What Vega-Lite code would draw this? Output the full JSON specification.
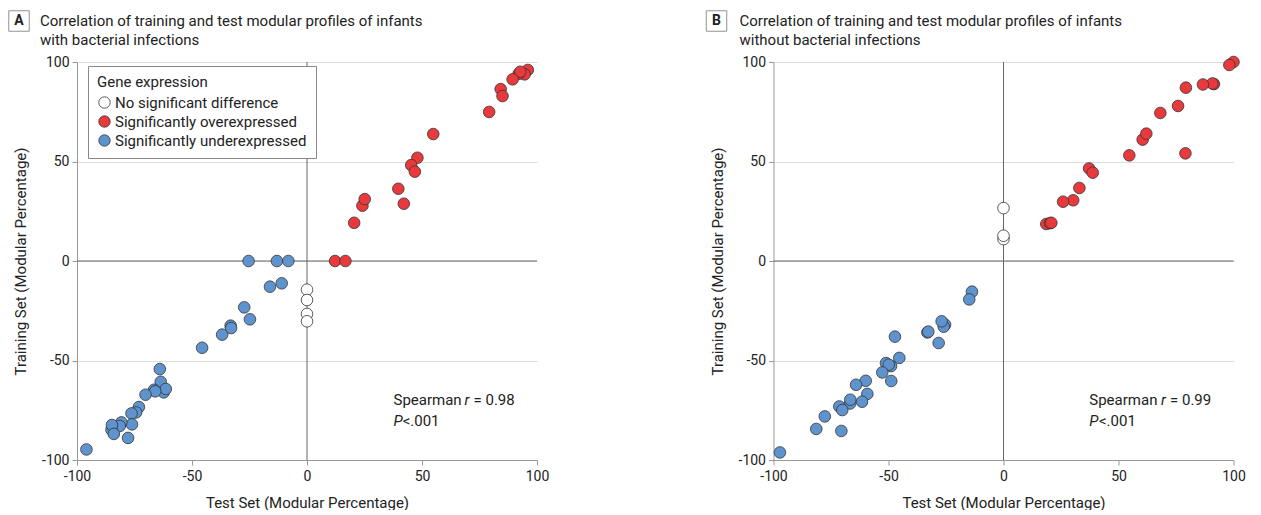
{
  "$schema": "https://vega.github.io/schema/vega-lite/v6.json",
  "padding": {"left": 6, "top": 8, "right": 0, "bottom": 0},
  "spacing": 154.5,
  "background": "white",
  "config": {
    "font": "Roboto",
    "view": {"stroke": null},
    "axis": {
      "labelFont": "Roboto", "labelFontSize": 14, "labelColor": "#222", "labelFlush": false,
      "titleFont": "Roboto", "titleFontSize": 15, "titleFontWeight": "normal", "titleColor": "#222",
      "domainColor": "#999", "tickColor": "#999", "tickSize": 5, "gridColor": "#dddddd",
      "labelExpr": "'' + datum.value"
    },
    "legend": {"labelFont": "Roboto", "titleFont": "Roboto"}
  },
  "datasets": {
    "A": [
      {"test": 0, "train": -14.4, "expr": "No significant difference"},
      {"test": 0, "train": -19.6, "expr": "No significant difference"},
      {"test": 0, "train": -26.6, "expr": "No significant difference"},
      {"test": 0, "train": -30.3, "expr": "No significant difference"},
      {"test": 96, "train": 96, "expr": "Significantly overexpressed"},
      {"test": 94.6, "train": 93.8, "expr": "Significantly overexpressed"},
      {"test": 92, "train": 94, "expr": "Significantly overexpressed"},
      {"test": 92.7, "train": 95.1, "expr": "Significantly overexpressed"},
      {"test": 89.4, "train": 91.3, "expr": "Significantly overexpressed"},
      {"test": 84.2, "train": 86.4, "expr": "Significantly overexpressed"},
      {"test": 85.0, "train": 82.9, "expr": "Significantly overexpressed"},
      {"test": 79.2, "train": 74.9, "expr": "Significantly overexpressed"},
      {"test": 54.9, "train": 63.8, "expr": "Significantly overexpressed"},
      {"test": 48.0, "train": 51.9, "expr": "Significantly overexpressed"},
      {"test": 45.3, "train": 48.2, "expr": "Significantly overexpressed"},
      {"test": 46.9, "train": 44.9, "expr": "Significantly overexpressed"},
      {"test": 39.7, "train": 36.3, "expr": "Significantly overexpressed"},
      {"test": 42.1, "train": 28.8, "expr": "Significantly overexpressed"},
      {"test": 24.1, "train": 27.8, "expr": "Significantly overexpressed"},
      {"test": 25.1, "train": 31.1, "expr": "Significantly overexpressed"},
      {"test": 20.5, "train": 19.2, "expr": "Significantly overexpressed"},
      {"test": 12.2, "train": 0, "expr": "Significantly overexpressed"},
      {"test": 16.7, "train": 0, "expr": "Significantly overexpressed"},
      {"test": -25.4, "train": 0, "expr": "Significantly underexpressed"},
      {"test": -13.1, "train": 0, "expr": "Significantly underexpressed"},
      {"test": -8.1, "train": 0, "expr": "Significantly underexpressed"},
      {"test": -16.1, "train": -12.9, "expr": "Significantly underexpressed"},
      {"test": -11.0, "train": -11.2, "expr": "Significantly underexpressed"},
      {"test": -27.3, "train": -23.3, "expr": "Significantly underexpressed"},
      {"test": -24.8, "train": -29.3, "expr": "Significantly underexpressed"},
      {"test": -33.2, "train": -32.5, "expr": "Significantly underexpressed"},
      {"test": -33.0, "train": -33.7, "expr": "Significantly underexpressed"},
      {"test": -36.9, "train": -37.0, "expr": "Significantly underexpressed"},
      {"test": -45.6, "train": -43.6, "expr": "Significantly underexpressed"},
      {"test": -64.0, "train": -54.3, "expr": "Significantly underexpressed"},
      {"test": -63.6, "train": -60.7, "expr": "Significantly underexpressed"},
      {"test": -62.3, "train": -66.0, "expr": "Significantly underexpressed"},
      {"test": -61.4, "train": -64.3, "expr": "Significantly underexpressed"},
      {"test": -66.5, "train": -64.7, "expr": "Significantly underexpressed"},
      {"test": -66.0, "train": -65.5, "expr": "Significantly underexpressed"},
      {"test": -70.2, "train": -67.2, "expr": "Significantly underexpressed"},
      {"test": -73.1, "train": -73.4, "expr": "Significantly underexpressed"},
      {"test": -74.3, "train": -76.1, "expr": "Significantly underexpressed"},
      {"test": -76.3, "train": -76.6, "expr": "Significantly underexpressed"},
      {"test": -76.1, "train": -82.1, "expr": "Significantly underexpressed"},
      {"test": -80.7, "train": -81.1, "expr": "Significantly underexpressed"},
      {"test": -81.4, "train": -82.9, "expr": "Significantly underexpressed"},
      {"test": -85.0, "train": -84.8, "expr": "Significantly underexpressed"},
      {"test": -84.8, "train": -82.4, "expr": "Significantly underexpressed"},
      {"test": -84.0, "train": -86.9, "expr": "Significantly underexpressed"},
      {"test": -77.8, "train": -88.9, "expr": "Significantly underexpressed"},
      {"test": -95.9, "train": -94.7, "expr": "Significantly underexpressed"}
    ],
    "B": [
      {"test": 0, "train": 26.6, "expr": "No significant difference"},
      {"test": 0, "train": 11.0, "expr": "No significant difference"},
      {"test": 0, "train": 12.7, "expr": "No significant difference"},
      {"test": 100, "train": 100, "expr": "Significantly overexpressed"},
      {"test": 98.2, "train": 98.5, "expr": "Significantly overexpressed"},
      {"test": 91.5, "train": 88.9, "expr": "Significantly overexpressed"},
      {"test": 90.8, "train": 89.2, "expr": "Significantly overexpressed"},
      {"test": 86.7, "train": 88.7, "expr": "Significantly overexpressed"},
      {"test": 79.3, "train": 87.1, "expr": "Significantly overexpressed"},
      {"test": 75.9, "train": 77.9, "expr": "Significantly overexpressed"},
      {"test": 68.2, "train": 74.4, "expr": "Significantly overexpressed"},
      {"test": 60.5, "train": 61.0, "expr": "Significantly overexpressed"},
      {"test": 62.1, "train": 64.0, "expr": "Significantly overexpressed"},
      {"test": 79.1, "train": 54.1, "expr": "Significantly overexpressed"},
      {"test": 54.7, "train": 53.1, "expr": "Significantly overexpressed"},
      {"test": 37.2, "train": 46.5, "expr": "Significantly overexpressed"},
      {"test": 38.8, "train": 44.4, "expr": "Significantly overexpressed"},
      {"test": 33.0, "train": 36.7, "expr": "Significantly overexpressed"},
      {"test": 30.3, "train": 30.5, "expr": "Significantly overexpressed"},
      {"test": 25.9, "train": 29.8, "expr": "Significantly overexpressed"},
      {"test": 18.6, "train": 18.6, "expr": "Significantly overexpressed"},
      {"test": 20.2, "train": 19.0, "expr": "Significantly overexpressed"},
      {"test": 20.8, "train": 19.2, "expr": "Significantly overexpressed"},
      {"test": -13.7, "train": -15.4, "expr": "Significantly underexpressed"},
      {"test": -14.9, "train": -19.3, "expr": "Significantly underexpressed"},
      {"test": -25.4, "train": -32.0, "expr": "Significantly underexpressed"},
      {"test": -26.0, "train": -33.0, "expr": "Significantly underexpressed"},
      {"test": -26.9, "train": -30.3, "expr": "Significantly underexpressed"},
      {"test": -33.1, "train": -35.9, "expr": "Significantly underexpressed"},
      {"test": -32.7, "train": -35.5, "expr": "Significantly underexpressed"},
      {"test": -28.2, "train": -41.2, "expr": "Significantly underexpressed"},
      {"test": -47.2, "train": -38.0, "expr": "Significantly underexpressed"},
      {"test": -45.3, "train": -48.7, "expr": "Significantly underexpressed"},
      {"test": -48.9, "train": -52.8, "expr": "Significantly underexpressed"},
      {"test": -51.1, "train": -51.3, "expr": "Significantly underexpressed"},
      {"test": -49.9, "train": -52.1, "expr": "Significantly underexpressed"},
      {"test": -52.7, "train": -56.0, "expr": "Significantly underexpressed"},
      {"test": -48.8, "train": -60.3, "expr": "Significantly underexpressed"},
      {"test": -59.9, "train": -60.2, "expr": "Significantly underexpressed"},
      {"test": -64.1, "train": -62.2, "expr": "Significantly underexpressed"},
      {"test": -59.2, "train": -66.8, "expr": "Significantly underexpressed"},
      {"test": -61.5, "train": -70.7, "expr": "Significantly underexpressed"},
      {"test": -66.7, "train": -71.6, "expr": "Significantly underexpressed"},
      {"test": -66.6, "train": -69.7, "expr": "Significantly underexpressed"},
      {"test": -71.4, "train": -73.1, "expr": "Significantly underexpressed"},
      {"test": -70.1, "train": -74.9, "expr": "Significantly underexpressed"},
      {"test": -77.7, "train": -78.1, "expr": "Significantly underexpressed"},
      {"test": -81.4, "train": -84.4, "expr": "Significantly underexpressed"},
      {"test": -70.5, "train": -85.4, "expr": "Significantly underexpressed"},
      {"test": -97.2, "train": -96.2, "expr": "Significantly underexpressed"}
    ]
  },
  "resolve": {"legend": {"fill": "independent"}},
  "hconcat": [
    {
      "width": 460, "height": 398,
      "title": {"text": ["Correlation of training and test modular profiles of infants", "with bacterial infections"], "anchor": "start", "frame": "group", "dx": -37, "dy": 51, "fontSize": 15, "fontWeight": "normal", "color": "#222", "lineHeight": 19, "offset": 12},
      "layer": [
        {"data": {"values": [{}]}, "mark": {"type": "square", "size": 420, "filled": false, "stroke": "#666", "strokeWidth": 1, "xOffset": -58, "yOffset": -41}, "encoding": {"x": {"datum": -100, "type": "quantitative"}, "y": {"datum": 100, "type": "quantitative"}}},
        {"data": {"values": [{"label": "A"}]}, "mark": {"type": "text", "fontWeight": "bold", "fontSize": 14, "color": "#222", "xOffset": -58, "yOffset": -41, "baseline": "middle", "align": "center"}, "encoding": {"x": {"datum": -100, "type": "quantitative"}, "y": {"datum": 100, "type": "quantitative"}, "text": {"field": "label"}}},
        {"data": {"values": [{}]}, "mark": {"type": "rule", "color": "#666", "strokeWidth": 1}, "encoding": {"x": {"datum": 0, "type": "quantitative"}}},
        {"data": {"values": [{}]}, "mark": {"type": "rule", "color": "#666", "strokeWidth": 1}, "encoding": {"y": {"datum": 0, "type": "quantitative"}}},
        {
          "data": {"name": "A"},
          "mark": {"type": "point", "filled": true, "size": 135, "stroke": "#333", "strokeWidth": 0.8, "opacity": 1},
          "encoding": {
            "x": {"field": "test", "type": "quantitative", "scale": {"domain": [-100, 100], "nice": false}, "axis": {"values": [-100, -50, 0, 50, 100], "grid": false, "title": "Test Set (Modular Percentage)", "titlePadding": 12, "labelPadding": 4}},
            "y": {"field": "train", "type": "quantitative", "scale": {"domain": [-100, 100], "nice": false}, "axis": {"values": [-100, -50, 0, 50, 100], "grid": true, "title": "Training Set (Modular Percentage)", "titlePadding": 13, "labelPadding": 3}},
            "fill": {"field": "expr", "type": "nominal", "scale": {"domain": ["No significant difference", "Significantly overexpressed", "Significantly underexpressed"], "range": ["#ffffff", "#e8393c", "#5f93cd"]},
              "legend": {"orient": "none", "legendX": 11, "legendY": 4, "title": "Gene expression", "titleFontSize": 15, "titleFontWeight": "normal", "titleColor": "#222", "labelFontSize": 15, "labelColor": "#222", "labelLimit": 400, "strokeColor": "#888", "padding": 9, "symbolType": "circle", "symbolSize": 130, "symbolStrokeColor": "#333", "symbolStrokeWidth": 0.8, "rowPadding": 3, "labelOffset": 3, "titlePadding": 5, "fillColor": "white"}}
          }
        },
        {"data": {"values": [{"t": "Spearman", "x": 37.6, "y": -69.8}, {"t": "= 0.98", "x": 72.4, "y": -69.8}, {"t": "<.001", "x": 41.6, "y": -80.3}]}, "mark": {"type": "text", "align": "left", "baseline": "middle", "fontSize": 15, "color": "#222"}, "encoding": {"x": {"field": "x", "type": "quantitative"}, "y": {"field": "y", "type": "quantitative"}, "text": {"field": "t"}}},
        {"data": {"values": [{"t": "r", "x": 68.5, "y": -69.8}, {"t": "P", "x": 37.6, "y": -80.3}]}, "mark": {"type": "text", "align": "left", "baseline": "middle", "fontSize": 15, "fontStyle": "italic", "color": "#222"}, "encoding": {"x": {"field": "x", "type": "quantitative"}, "y": {"field": "y", "type": "quantitative"}, "text": {"field": "t"}}}
      ]
    },
    {
      "width": 460, "height": 398,
      "title": {"text": ["Correlation of training and test modular profiles of infants", "without bacterial infections"], "anchor": "start", "frame": "group", "dx": -34, "dy": 51, "fontSize": 15, "fontWeight": "normal", "color": "#222", "lineHeight": 19, "offset": 12},
      "layer": [
        {"data": {"values": [{}]}, "mark": {"type": "square", "size": 420, "filled": false, "stroke": "#666", "strokeWidth": 1, "xOffset": -57, "yOffset": -41}, "encoding": {"x": {"datum": -100, "type": "quantitative"}, "y": {"datum": 100, "type": "quantitative"}}},
        {"data": {"values": [{"label": "B"}]}, "mark": {"type": "text", "fontWeight": "bold", "fontSize": 14, "color": "#222", "xOffset": -57, "yOffset": -41, "baseline": "middle", "align": "center"}, "encoding": {"x": {"datum": -100, "type": "quantitative"}, "y": {"datum": 100, "type": "quantitative"}, "text": {"field": "label"}}},
        {"data": {"values": [{}]}, "mark": {"type": "rule", "color": "#666", "strokeWidth": 1}, "encoding": {"x": {"datum": 0, "type": "quantitative"}}},
        {"data": {"values": [{}]}, "mark": {"type": "rule", "color": "#666", "strokeWidth": 1}, "encoding": {"y": {"datum": 0, "type": "quantitative"}}},
        {
          "data": {"name": "B"},
          "mark": {"type": "point", "filled": true, "size": 135, "stroke": "#333", "strokeWidth": 0.8, "opacity": 1},
          "encoding": {
            "x": {"field": "test", "type": "quantitative", "scale": {"domain": [-100, 100], "nice": false}, "axis": {"values": [-100, -50, 0, 50, 100], "grid": false, "title": "Test Set (Modular Percentage)", "titlePadding": 12, "labelPadding": 4}},
            "y": {"field": "train", "type": "quantitative", "scale": {"domain": [-100, 100], "nice": false}, "axis": {"values": [-100, -50, 0, 50, 100], "grid": true, "title": "Training Set (Modular Percentage)", "titlePadding": 13, "labelPadding": 3}},
            "fill": {"field": "expr", "type": "nominal", "scale": {"domain": ["No significant difference", "Significantly overexpressed", "Significantly underexpressed"], "range": ["#ffffff", "#e8393c", "#5f93cd"]}, "legend": null}
          }
        },
        {"data": {"values": [{"t": "Spearman", "x": 37.3, "y": -69.8}, {"t": "= 0.99", "x": 72.4, "y": -69.8}, {"t": "<.001", "x": 41.5, "y": -80.3}]}, "mark": {"type": "text", "align": "left", "baseline": "middle", "fontSize": 15, "color": "#222"}, "encoding": {"x": {"field": "x", "type": "quantitative"}, "y": {"field": "y", "type": "quantitative"}, "text": {"field": "t"}}},
        {"data": {"values": [{"t": "r", "x": 68.5, "y": -69.8}, {"t": "P", "x": 37.3, "y": -80.3}]}, "mark": {"type": "text", "align": "left", "baseline": "middle", "fontSize": 15, "fontStyle": "italic", "color": "#222"}, "encoding": {"x": {"field": "x", "type": "quantitative"}, "y": {"field": "y", "type": "quantitative"}, "text": {"field": "t"}}}
      ]
    }
  ]
}
